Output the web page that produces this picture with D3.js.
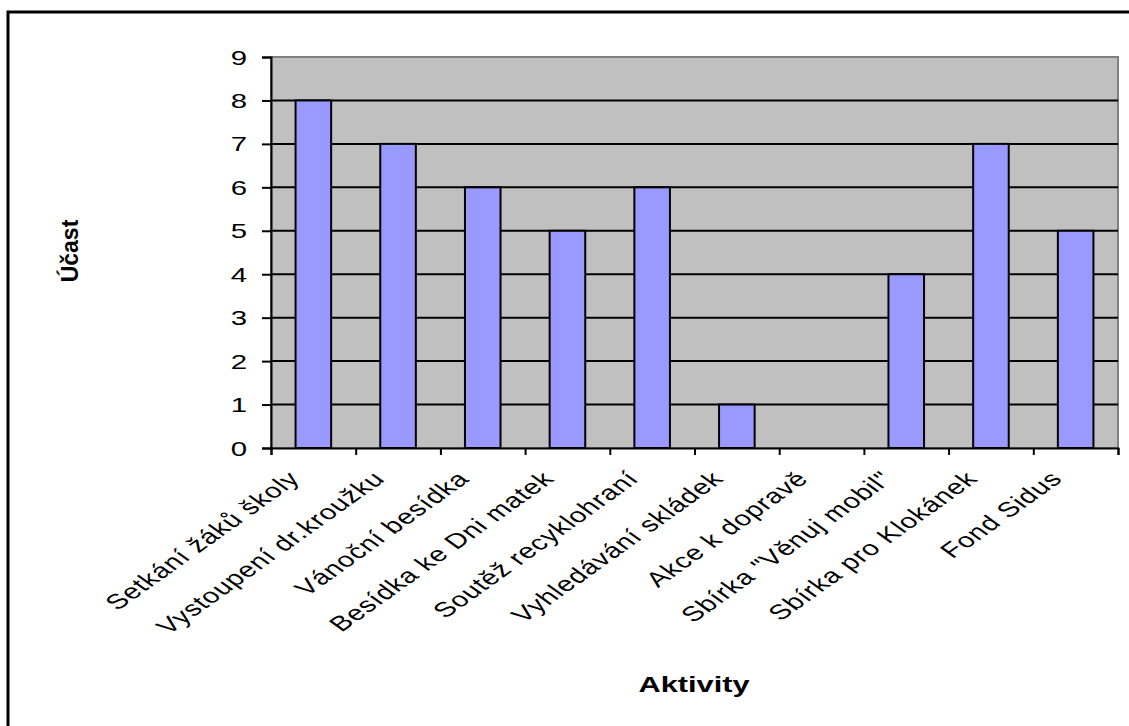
<!DOCTYPE html>
<html>
<head>
<meta charset="utf-8">
<script src="https://cdn.jsdelivr.net/npm/d3@7"></script>
<style>
  body { margin: 0; background: #fff; }
  text { font-family: "Liberation Sans", Arial, sans-serif; fill: #000; }
</style>
</head>
<body>
<div id="chart"></div>
<script>
var categories = ["Setkání žáků školy", "Vystoupení dr.kroužku", "Vánoční besídka",
  "Besídka ke Dni matek", "Soutěž recyklohraní", "Vyhledávání skládek",
  "Akce k dopravě", "Sbírka \"Věnuj mobil\"", "Sbírka pro Klokánek", "Fond Sidus"];
var values = [8, 7, 6, 5, 6, 1, 0, 4, 7, 5];
var yTicks = [0, 1, 2, 3, 4, 5, 6, 7, 8, 9];

var svgWidth = 1129;
var svgHeight = 726;
var plot = { left: 271, right: 1118, top: 57, bottom: 448 };
var stretch = 1.4; // text in the picture is drawn wide

var svg = d3.select("#chart")
  .append("svg")
  .attr("width", svgWidth)
  .attr("height", svgHeight);

// outer frame (right and bottom sides run off the picture)
svg.append("rect")
  .attr("x", 8).attr("y", 12)
  .attr("width", 1140).attr("height", 740)
  .attr("fill", "none")
  .attr("stroke", "#000")
  .attr("stroke-width", 3);

var x = d3.scaleBand()
  .domain(categories)
  .range([plot.left, plot.right])
  .padding(0);

var y = d3.scaleLinear()
  .domain([0, 9])
  .range([plot.bottom, plot.top]);

// plot background
svg.append("rect")
  .attr("x", plot.left).attr("y", plot.top)
  .attr("width", plot.right - plot.left)
  .attr("height", plot.bottom - plot.top)
  .attr("fill", "#c0c0c0")
  .attr("stroke", "#808080")
  .attr("stroke-width", 2);

// gridlines
svg.append("g")
  .selectAll("line")
  .data(yTicks.filter(d => d > 0 && d < 9))
  .enter()
  .append("line")
  .attr("x1", plot.left).attr("x2", plot.right)
  .attr("y1", d => y(d)).attr("y2", d => y(d))
  .attr("stroke", "#000")
  .attr("stroke-width", 2);

// bars
var barW = x.bandwidth() * 0.42;
svg.append("g")
  .selectAll("rect")
  .data(values)
  .enter()
  .append("rect")
  .attr("x", (d, i) => x(categories[i]) + (x.bandwidth() - barW) / 2)
  .attr("y", d => y(d))
  .attr("width", barW)
  .attr("height", d => y(0) - y(d))
  .attr("fill", d => d > 0 ? "#9999ff" : "none")
  .attr("stroke", d => d > 0 ? "#000" : "none")
  .attr("stroke-width", 2);

// y axis
var leftAxis = d3.axisLeft(y).tickValues(yTicks).tickSize(9).tickFormat("");
var yAxis = svg.append("g")
  .attr("transform", "translate(" + plot.left + ",0)")
  .call(leftAxis);
yAxis.select(".domain").attr("stroke", "#000").attr("stroke-width", 2);
yAxis.selectAll(".tick line").attr("stroke-width", 2);

svg.append("g")
  .selectAll("text")
  .data(yTicks)
  .enter()
  .append("text")
  .attr("transform", d => "translate(247," + y(d) + ") scale(" + stretch + ",1)")
  .attr("text-anchor", "end")
  .attr("dy", "0.36em")
  .style("font-size", "21px")
  .text(d => d);

// x axis, ticks on category boundaries
var edges = d3.scaleLinear().domain([0, categories.length]).range([plot.left, plot.right]);
var bottomAxis = d3.axisBottom(edges).ticks(categories.length).tickSize(7).tickFormat("");
var xAxis = svg.append("g")
  .attr("transform", "translate(0," + plot.bottom + ")")
  .call(bottomAxis);
xAxis.select(".domain").attr("stroke", "#000").attr("stroke-width", 2);
xAxis.selectAll(".tick line").attr("stroke-width", 2);

svg.append("g")
  .selectAll("text")
  .data(categories)
  .enter()
  .append("text")
  .attr("transform", d => "translate(" + (x(d) + x.bandwidth() / 2 - 12) + ",480) scale(" + stretch + ",1) rotate(-45)")
  .attr("text-anchor", "end")
  .style("font-size", "21px")
  .style("letter-spacing", "0.6px")
  .text(d => d);

// axis titles
svg.append("text")
  .attr("transform", "translate(694,692) scale(" + stretch + ",1)")
  .attr("text-anchor", "middle")
  .style("font-size", "22px")
  .style("font-weight", "bold")
  .text("Aktivity");

svg.append("text")
  .attr("transform", "translate(78,251) rotate(-90)")
  .attr("text-anchor", "middle")
  .style("font-size", "23px")
  .style("font-weight", "bold")
  .text("Účast");
</script>
</body>
</html>
